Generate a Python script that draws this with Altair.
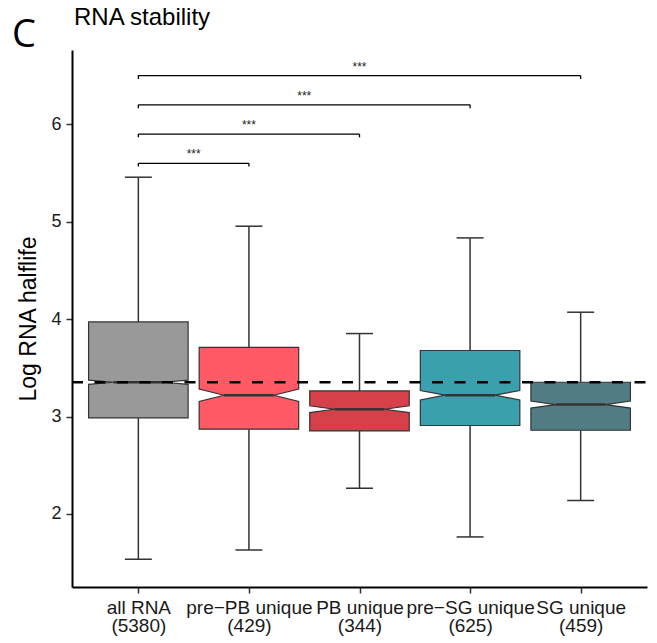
import altair as alt
import pandas as pd

# Groups, sizes and box-plot statistics (log RNA half-life)
groups = ["all RNA", "pre\u2212PB unique", "PB unique", "pre\u2212SG unique", "SG unique"]
counts = [5380, 429, 344, 625, 459]
q1 = [2.986, 2.870, 2.852, 2.908, 2.859]
median = [3.352, 3.219, 3.075, 3.219, 3.123]
q3 = [3.971, 3.711, 3.263, 3.678, 3.352]
whisker_lo = [1.535, 1.630, 2.264, 1.764, 2.138]
whisker_hi = [5.457, 4.954, 3.852, 4.834, 4.071]
colors = ["#999999", "#FF5A66", "#D6404A", "#3AA0AE", "#527C84"]

# Significance comparisons against "all RNA"
cmp_target = [1, 2, 3, 4]
cmp_level = [5.6, 5.9, 6.2, 6.5]
cmp_label = ["***", "***", "***", "***"]

W, H = 575, 537
FONT = "Liberation Sans"
BOX_HALF = 0.45
CAP_HALF = 0.122

stats = pd.DataFrame({
    "group": groups, "pos": list(range(len(groups))), "n": counts,
    "q1": q1, "med": median, "q3": q3, "lo": whisker_lo, "hi": whisker_hi,
})

# Notched box outlines (ggplot-style notch: median +/- 1.58 * IQR / sqrt(n))
rows = []
for g, p, n, a, m, b in zip(groups, stats["pos"], counts, q1, median, q3):
    notch = 1.58 * (b - a) / n ** 0.5
    for y, half in [(a, BOX_HALF), (m - notch, BOX_HALF), (m, BOX_HALF / 2),
                    (m + notch, BOX_HALF), (b, BOX_HALF)]:
        rows.append({"group": g, "y": y, "xl": p - half, "xr": p + half})
boxes = pd.DataFrame(rows)

cmp_df = pd.DataFrame({"target": cmp_target, "level": cmp_level, "label": cmp_label})
cmp_df["start"] = 0

xscale = alt.Scale(domain=[-0.6, 4.6], nice=False, zero=False)
yscale = alt.Scale(domain=[1.25, 6.763], nice=False, zero=False)
cscale = alt.Scale(domain=groups, range=colors)

label_lines = ",".join(f"['{g}','({n})']" for g, n in zip(groups, counts))
x_axis = alt.Axis(
    values=list(range(len(groups))), labelExpr=f"[{label_lines}][datum.value]",
    title=None, grid=False, domainColor="black", domainWidth=2,
    tickColor="#333333", tickWidth=1.5, tickSize=6, labelFontSize=19,
    labelColor="#1a1a1a", labelLineHeight=18, labelPadding=5, labelFont=FONT,
    labelFlush=False, labelOverlap=False,
)
y_axis = alt.Axis(
    values=[2, 3, 4, 5, 6], title="Log RNA halflife", grid=False,
    domainColor="black", domainWidth=2, tickColor="#333333", tickWidth=1.5,
    tickSize=6, labelFontSize=18, labelColor="#1a1a1a", labelPadding=5,
    labelFont=FONT, titleFont=FONT, titleFontSize=23, titleFontWeight="normal",
    titleColor="black", titleX=-37, titleY=H / 2, titleAngle=-90,
    titleBaseline="alphabetic", titleAlign="center",
)


def X(field):
    return alt.X(field, type="quantitative", scale=xscale, axis=x_axis)


def Y(field):
    return alt.Y(field, type="quantitative", scale=yscale, axis=y_axis)


base = alt.Chart(stats)

whisk_up = base.mark_rule(color="#333333", strokeWidth=1.5).encode(
    x=X("pos"), y=Y("q3"), y2="hi:Q")
whisk_dn = base.mark_rule(color="#333333", strokeWidth=1.5).encode(
    x=X("pos"), y=Y("q1"), y2="lo:Q")
caps = base.transform_fold(["lo", "hi"], as_=["end", "val"]).transform_calculate(
    cl=f"datum.pos - {CAP_HALF}", cr=f"datum.pos + {CAP_HALF}"
).mark_rule(color="#333333", strokeWidth=1.5).encode(
    x=X("cl"), x2="cr:Q", y=Y("val"))

box = alt.Chart(boxes).mark_area(
    orient="horizontal", interpolate="linear", stroke="#333333",
    strokeWidth=1.2, opacity=1
).encode(
    y=Y("y"),
    x=alt.X("xl:Q", scale=xscale, axis=x_axis, stack=None), x2="xr:Q",
    color=alt.Color("group:N", scale=cscale, legend=None),
)

med_line = base.transform_calculate(
    ml=f"datum.pos - {BOX_HALF / 2}", mr=f"datum.pos + {BOX_HALF / 2}"
).mark_rule(color="#333333", strokeWidth=2.5).encode(
    x=X("ml"), x2="mr:Q", y=Y("med"))

# Dashed reference line at the median of all RNA
ref = alt.Chart(stats.iloc[:1]).mark_rule(
    color="black", strokeWidth=2.5, strokeDash=[11, 11.5]
).encode(x=alt.value(0), x2=alt.value(W), y=Y("med"))

cmp = alt.Chart(cmp_df)
bracket = cmp.mark_rule(color="black", strokeWidth=1.3).encode(
    x=X("start"), x2="target:Q", y=Y("level"))
ends = cmp.transform_fold(["start", "target"], as_=["side", "xp"]).transform_calculate(
    low="datum.level - 0.034"
).mark_rule(color="black", strokeWidth=1.3).encode(
    x=X("xp"), y=Y("level"), y2="low:Q")
stars = cmp.transform_calculate(mid="datum.target / 2").mark_text(
    font=FONT, fontSize=12, color="#222222", baseline="alphabetic", dy=-5
).encode(x=X("mid"), y=Y("level"), text="label:N")

heading = alt.Chart(pd.DataFrame({"t": ["C", "RNA stability"]}))
panel = heading.transform_filter("datum.t == 'C'").mark_text(
    font="Open Sans", fontSize=38, align="left", baseline="alphabetic", color="black"
).encode(x=alt.value(-60), y=alt.value(-3), text="t:N")
title = heading.transform_filter("datum.t != 'C'").mark_text(
    font=FONT, fontSize=24, align="left", baseline="alphabetic", color="black"
).encode(x=alt.value(2), y=alt.value(-25), text="t:N")

chart = alt.layer(
    whisk_up, whisk_dn, caps, box, med_line, ref, bracket, ends, stars, panel, title
).properties(
    width=W, height=H,
    autosize=alt.AutoSizeParams(type="none"),
    padding={"left": 72, "top": 50, "right": 10, "bottom": 56},
).configure_view(stroke=None)

chart.save("out.html", embed_options={"renderer": "svg", "actions": False})
